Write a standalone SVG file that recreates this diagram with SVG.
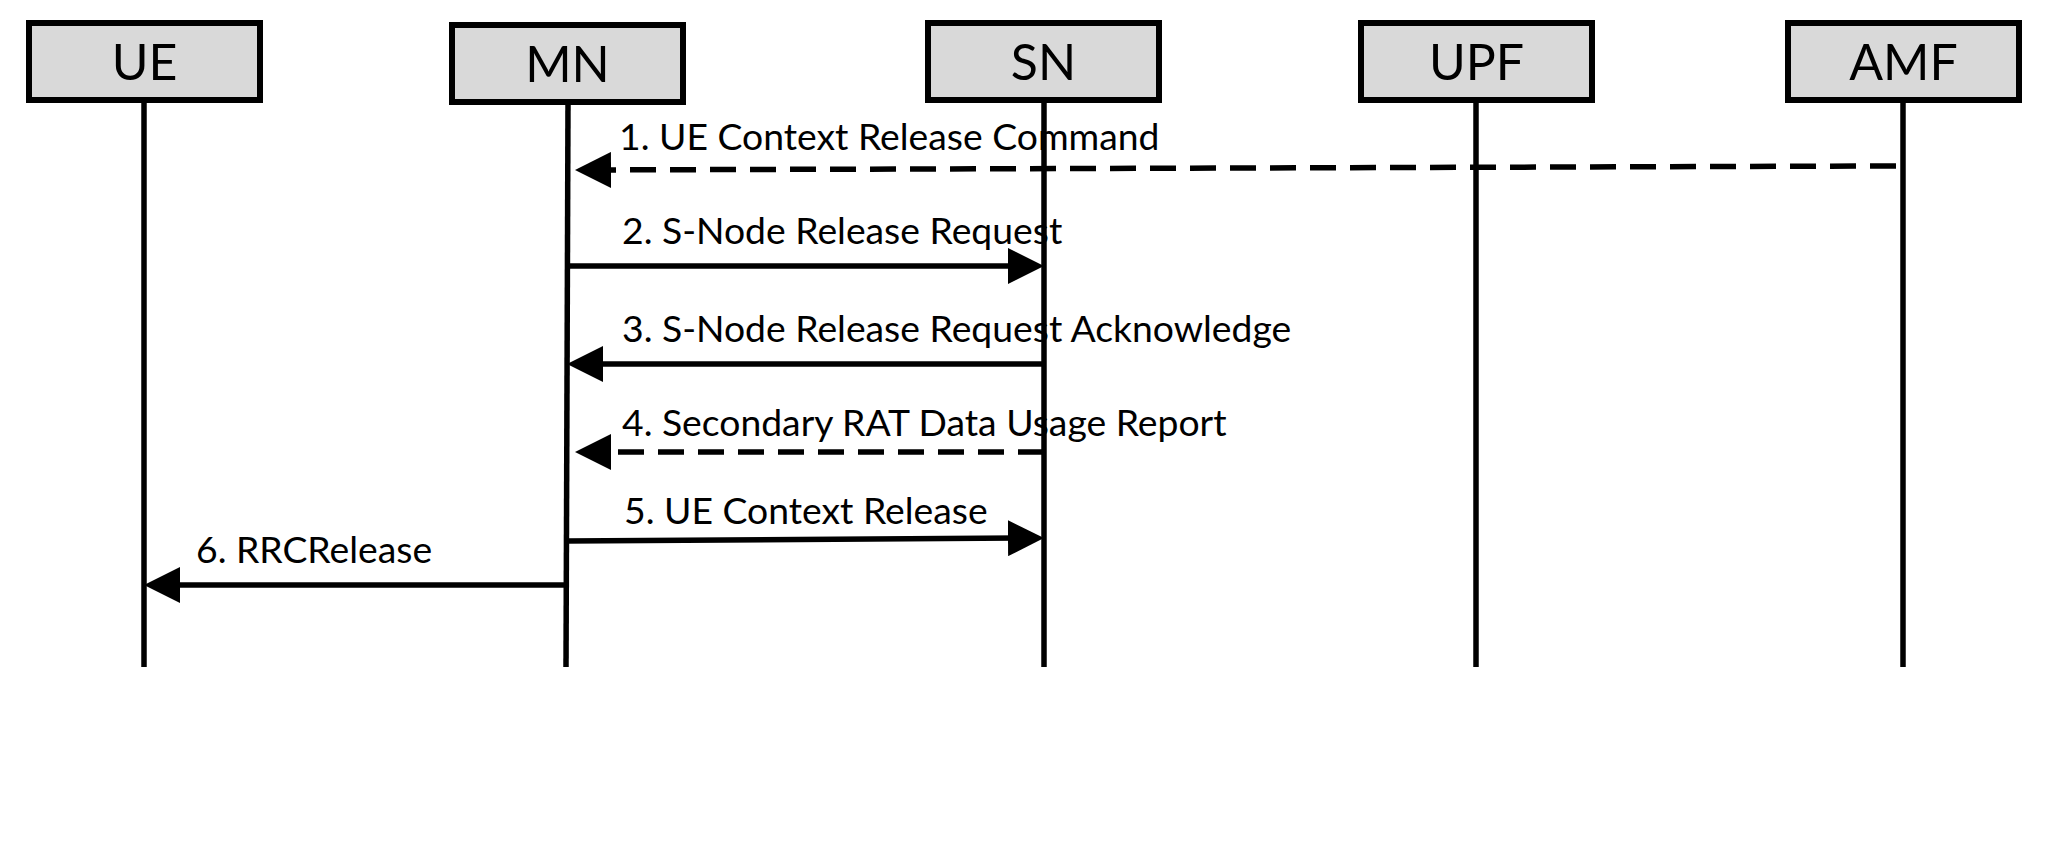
<svg xmlns="http://www.w3.org/2000/svg" width="2048" height="855" viewBox="0 0 2048 855">
<style>
.box{fill:#d9d9d9;stroke:#000;stroke-width:6}
.name{font-family:Lato,"Liberation Sans",sans-serif;font-size:50px;text-anchor:middle;fill:#000}
.life{stroke:#000;stroke-width:5.5;fill:none}
.msg{stroke:#000;stroke-width:5.5;fill:none;marker-end:url(#ah)}
.dash{stroke-dasharray:26 14}
.lbl{font-family:Lato,"Liberation Sans",sans-serif;font-size:37.3px;fill:#000}
</style>
<defs>
<marker id="ah" viewBox="0 0 36 36" refX="26" refY="18" markerWidth="36" markerHeight="36" markerUnits="userSpaceOnUse" orient="auto">
<path d="M0,0 L36,18 L0,36 Z" fill="#000"/>
</marker>
</defs>
<rect width="2048" height="855" fill="#fff"/>
<g id="UE"><rect class="box" x="29" y="23" width="231" height="77"/><text class="name" x="144.5" y="80">UE</text><line class="life" x1="144" y1="100" x2="144" y2="667"/></g>
<g id="MN"><rect class="box" x="452" y="25" width="231" height="77"/><text class="name" x="567.5" y="82">MN</text><line class="life" x1="568" y1="102" x2="566" y2="667"/></g>
<g id="SN"><rect class="box" x="928" y="23" width="231" height="77"/><text class="name" x="1043.5" y="80">SN</text><line class="life" x1="1044" y1="100" x2="1044" y2="667"/></g>
<g id="UPF"><rect class="box" x="1361" y="23" width="231" height="77"/><text class="name" x="1476.5" y="80">UPF</text><line class="life" x1="1476" y1="100" x2="1476" y2="667"/></g>
<g id="AMF"><rect class="box" x="1788" y="23" width="231" height="77"/><text class="name" x="1903.5" y="80">AMF</text><line class="life" x1="1903" y1="100" x2="1903" y2="667"/></g>
<g id="connectors">
<line class="msg dash" x1="1896" y1="166" x2="585" y2="170"/>
<line class="msg" x1="568" y1="266" x2="1034" y2="266"/>
<line class="msg" x1="1044" y1="364" x2="577" y2="364"/>
<line class="msg dash" x1="1044" y1="452" x2="585" y2="452"/>
<line class="msg" x1="567" y1="541" x2="1034" y2="538"/>
<line class="msg" x1="564" y1="585" x2="154" y2="585"/>
</g>
<g id="labels">
<text class="lbl" x="619" y="150">1. UE Context Release Command</text>
<text class="lbl" x="622" y="244">2. S-Node Release Request</text>
<text class="lbl" x="622" y="342">3. S-Node Release Request Acknowledge</text>
<text class="lbl" x="622" y="436">4. Secondary RAT Data Usage Report</text>
<text class="lbl" x="624" y="524">5. UE Context Release</text>
<text class="lbl" x="196" y="563">6. RRCRelease</text>
</g>
</svg>
